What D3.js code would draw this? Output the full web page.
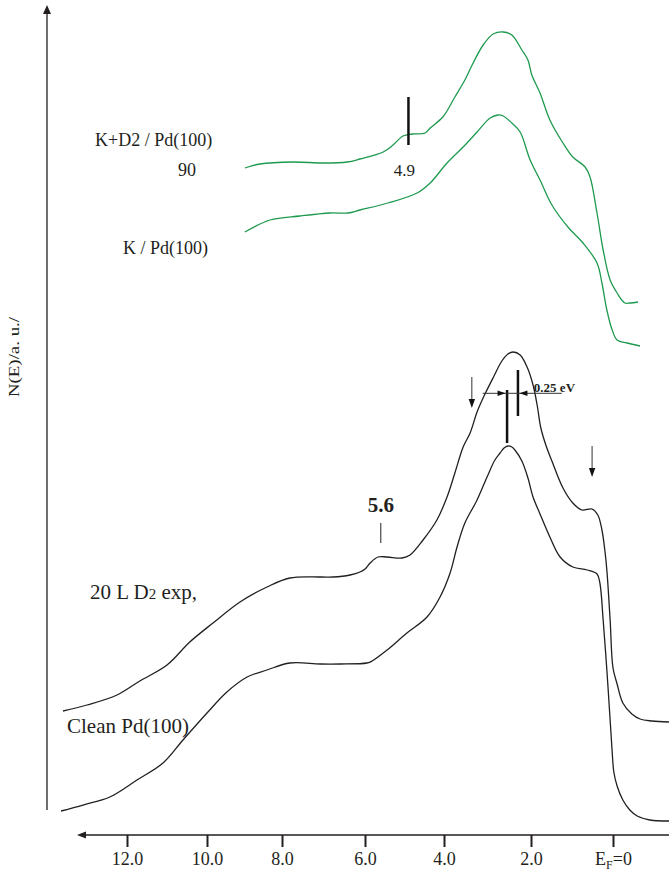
<!DOCTYPE html>
<html>
<head>
<meta charset="utf-8">
<script src="https://cdn.jsdelivr.net/npm/d3@7"></script>
<style>
  body { margin: 0; background: #fff; }
  svg { display: block; }
  text { font-family: "Liberation Serif", "Times New Roman", serif; fill: #231f20; }
</style>
</head>
<body>
<svg id="chart" width="669" height="872"></svg>
<script>
// Binding energy (eV, E_F = 0) and intensity N(E) in arbitrary units.
const energyTicks = [0, 2, 4, 6, 8, 10, 12];
const tickLabels = ["E_F=0", "2.0", "4.0", "6.0", "8.0", "10.0", "12.0"];

// UPS spectra, listed from high binding energy to the Fermi edge.
const d2Exposed = [
  [13.60,124],[13.00,130],[12.25,140],[11.68,154],[11.00,170],[10.43,193],[9.84,212],
  [9.12,233],[8.40,248],[7.81,257],[7.08,258],[6.77,258],[6.36,260],[6.12,263],
  [6.00,266],[5.87,272],[5.67,278],[5.44,278],[5.06,277],[4.86,280],[4.53,295],
  [4.18,315],[3.93,338],[3.75,362],[3.56,388],[3.40,402],[3.24,423],[3.08,439],
  [2.85,459],[2.67,474],[2.53,481],[2.41,483],[2.25,480],[2.09,468],[1.95,450],
  [1.85,430],[1.76,407],[1.63,389],[1.49,374],[1.22,347],[0.98,332],[0.76,325],
  [0.51,326],[0.37,320],[0.27,305],[0.20,285],[0.15,265],[0.07,215],[0.00,167],
  [-0.10,151],[-0.24,132],[-0.46,121],[-0.66,116],[-0.95,114],[-1.37,113]
];

const cleanPd = [
  [13.65,24],[13.10,30],[12.43,38],[11.75,55],[11.10,72],[10.60,95],[10.00,122],
  [9.47,143],[8.93,158],[8.40,165],[7.81,172],[7.08,171],[6.60,171],[5.95,172],
  [5.82,174],[5.44,185],[4.94,202],[4.43,218],[4.10,238],[3.86,262],[3.70,288],
  [3.52,312],[3.24,335],[3.01,358],[2.83,375],[2.71,382],[2.62,387],[2.53,389],
  [2.44,388],[2.37,385],[2.21,374],[2.07,357],[1.95,338],[1.78,321],[1.54,298],
  [1.29,278],[0.98,268],[0.63,265],[0.39,261],[0.32,252],[0.24,215],[0.15,165],
  [0.07,115],[0.02,83],[-0.02,63],[-0.10,49],[-0.24,35],[-0.41,25],[-0.59,19],
  [-0.90,15],[-1.37,14]
];

const kD2Pd = [
  [8.99,667],[8.59,671],[7.73,673],[7.01,672],[6.43,673],[6.12,676],[5.54,683],
  [5.29,690],[5.04,699],[4.81,701],[4.48,702],[4.35,707],[4.03,718],[3.75,738],
  [3.52,755],[3.33,772],[3.10,790],[2.87,801],[2.64,803],[2.44,800],[2.21,785],
  [2.07,775],[1.98,760],[1.78,742],[1.54,715],[1.22,692],[0.98,678],[0.68,668],
  [0.56,658],[0.39,622],[0.24,585],[0.07,555],[-0.10,542],[-0.29,532],[-0.41,532],
  [-0.61,533]
];

const kPd = [
  [8.99,603],[8.32,615],[7.57,619],[6.84,622],[6.41,622],[6.12,625],[5.42,632],
  [4.68,642],[4.35,652],[3.93,672],[3.56,688],[3.24,703],[2.94,717],[2.76,720],
  [2.64,719],[2.44,712],[2.25,703],[2.02,675],[1.78,655],[1.49,630],[1.10,608],
  [0.73,592],[0.39,572],[0.27,552],[0.15,525],[0.02,505],[-0.10,495],[-0.34,492],
  [-0.66,489]
];

// Feature energies marked on the spectra.
const shoulderKD2 = 4.9;
const featureD2 = 5.6;
const peakClean = 2.55;
const peakShift = 0.25;
const peakD2 = peakClean - peakShift;

const svg = d3.select("#chart");

// The energy axis is hand-spaced, so the scale is piecewise between ticks.
const x = d3.scaleLinear()
  .domain(energyTicks)
  .range([613, 531, 444, 365, 282, 207, 127]);
const y = d3.scaleLinear().domain([0, 830]).range([835, 5]);

const ink = "#231f20";
const green = "#1e9a4f";

// Axes
const yAxisX = x(14);
svg.append("line")
  .attr("x1", yAxisX).attr("x2", yAxisX)
  .attr("y1", y(25)).attr("y2", y(830) + 7)
  .attr("stroke", ink).attr("stroke-width", 1.3);
svg.append("path")
  .attr("d", `M${yAxisX},${y(830)} L${yAxisX - 4},${y(830) + 9} L${yAxisX + 4},${y(830) + 9} Z`)
  .attr("fill", ink);

const xAxisY = y(0);
svg.append("line")
  .attr("x1", x(13.25) + 7).attr("x2", x(-1.37))
  .attr("y1", xAxisY).attr("y2", xAxisY)
  .attr("stroke", ink).attr("stroke-width", 1.3);
svg.append("path")
  .attr("d", `M${x(13.25)},${xAxisY} L${x(13.25) + 9},${xAxisY - 3.5} L${x(13.25) + 9},${xAxisY + 3.5} Z`)
  .attr("fill", ink);

const axis = svg.append("g")
  .attr("transform", `translate(0,${xAxisY})`)
  .call(d3.axisBottom(x)
    .tickValues(energyTicks)
    .tickSize(12)
    .tickPadding(5)
    .tickFormat((d, i) => tickLabels[i]));
axis.select(".domain").remove();
axis.selectAll(".tick line").attr("stroke", ink).attr("stroke-width", 2);
axis.selectAll(".tick text")
  .attr("font-family", "Liberation Serif, serif")
  .attr("font-size", 18)
  .attr("fill", ink)
  .each(function(d, i) {
    if (tickLabels[i] !== "E_F=0") return;
    const t = d3.select(this).text(null);
    t.append("tspan").text("E");
    t.append("tspan").attr("font-size", 12).attr("dy", 4).text("F");
    t.append("tspan").attr("dy", -4).text("=0");
  });

svg.append("text")
  .attr("transform", `translate(19,357) rotate(-90)`)
  .attr("text-anchor", "middle")
  .attr("font-size", 14)
  .attr("textLength", 80)
  .attr("lengthAdjust", "spacingAndGlyphs")
  .text("N(E)/a. u./");

// Spectra
const line = d3.line()
  .x(d => x(d[0]))
  .y(d => y(d[1]))
  .curve(d3.curveCatmullRom.alpha(0.5));

[[kD2Pd, green], [kPd, green], [d2Exposed, ink], [cleanPd, ink]].forEach(([data, color]) => {
  svg.append("path")
    .datum(data)
    .attr("d", line)
    .attr("fill", "none")
    .attr("stroke", color)
    .attr("stroke-width", 1.3)
    .attr("stroke-linejoin", "round");
});

// Shoulder marker on K+D2 spectrum
svg.append("line")
  .attr("x1", x(shoulderKD2)).attr("x2", x(shoulderKD2))
  .attr("y1", y(690)).attr("y2", y(738))
  .attr("stroke", "#111").attr("stroke-width", 2.5);
svg.append("text")
  .attr("x", x(shoulderKD2) - 4).attr("y", 176)
  .attr("text-anchor", "middle").attr("font-size", 17)
  .text(shoulderKD2.toFixed(1));

// 5.6 eV feature of the D2-exposed surface
svg.append("line")
  .attr("x1", x(featureD2)).attr("x2", x(featureD2))
  .attr("y1", y(292)).attr("y2", y(312))
  .attr("stroke", ink).attr("stroke-width", 1);
svg.append("text")
  .attr("x", x(featureD2)).attr("y", 512)
  .attr("text-anchor", "middle").attr("font-size", 21).attr("font-weight", "bold")
  .text(featureD2.toFixed(1));

// Peak-shift markers
svg.append("line")
  .attr("x1", x(peakClean)).attr("x2", x(peakClean))
  .attr("y1", y(392)).attr("y2", y(445))
  .attr("stroke", "#111").attr("stroke-width", 2.5);
svg.append("line")
  .attr("x1", x(peakD2)).attr("x2", x(peakD2))
  .attr("y1", y(419)).attr("y2", y(465))
  .attr("stroke", "#111").attr("stroke-width", 2.5);

const dimY = y(441.7);
svg.append("line")
  .attr("x1", x(3.11)).attr("x2", x(1.25))
  .attr("y1", dimY).attr("y2", dimY)
  .attr("stroke", "#333").attr("stroke-width", 1);
const leftTip = x(peakClean) - 1.5, rightTip = x(peakD2) + 1.5;
svg.append("path")
  .attr("d", `M${leftTip},${dimY} L${leftTip - 8},${dimY - 2.8} L${leftTip - 8},${dimY + 2.8} Z`)
  .attr("fill", "#111");
svg.append("path")
  .attr("d", `M${rightTip},${dimY} L${rightTip + 8},${dimY - 2.8} L${rightTip + 8},${dimY + 2.8} Z`)
  .attr("fill", "#111");
svg.append("text")
  .attr("x", x(1.93)).attr("y", dimY - 1.5)
  .attr("font-size", 13).attr("font-weight", "bold")
  .text(peakShift + " eV");

// Down arrows pointing at spectral features
[[3.36, 458, 427], [0.51, 389, 358]].forEach(([e, n0, n1]) => {
  const ax = x(e), tip = y(n1);
  svg.append("line")
    .attr("x1", ax).attr("x2", ax)
    .attr("y1", y(n0)).attr("y2", tip - 7)
    .attr("stroke", "#333").attr("stroke-width", 1);
  svg.append("path")
    .attr("d", `M${ax},${tip} L${ax - 3.2},${tip - 9} L${ax + 3.2},${tip - 9} Z`)
    .attr("fill", "#111");
});

// Spectrum labels
svg.append("text").attr("x", 95).attr("y", 146).attr("font-size", 18).text("K+D2 / Pd(100)");
svg.append("text").attr("x", 178).attr("y", 176).attr("font-size", 18).text("90");
svg.append("text").attr("x", 123).attr("y", 254).attr("font-size", 18).text("K / Pd(100)");

const lblD2 = svg.append("text").attr("x", 90).attr("y", 599).attr("font-size", 21);
lblD2.append("tspan").text("20 L D");
lblD2.append("tspan").attr("font-size", 15).text("2");
lblD2.append("tspan").text(" exp,");

svg.append("text").attr("x", 67).attr("y", 733).attr("font-size", 21).text("Clean Pd(100)");
</script>
</body>
</html>
